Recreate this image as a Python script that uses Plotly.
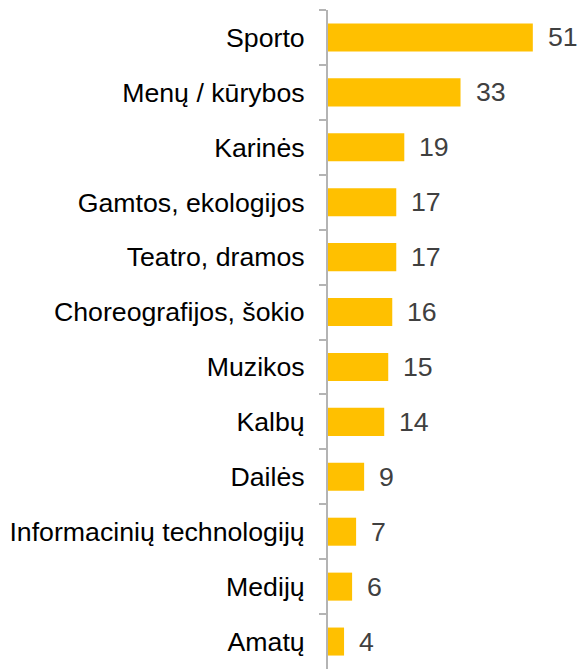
import plotly.graph_objects as go

# Būrelių kryptys ir jų reikšmės (nuo viršaus į apačią)
categories = [
    "Sporto",
    "Menų / kūrybos",
    "Karinės",
    "Gamtos, ekologijos",
    "Teatro, dramos",
    "Choreografijos, šokio",
    "Muzikos",
    "Kalbų",
    "Dailės",
    "Informacinių technologijų",
    "Medijų",
    "Amatų",
]
values = [51, 33, 19, 17, 17, 16, 15, 14, 9, 7, 6, 4]

BAR_COLOR = "#FFC000"
AXIS_COLOR = "#B4B4B4"
FONT = "Arial, Liberation Sans, sans-serif"

fig = go.Figure(
    go.Bar(
        x=values,
        y=categories,
        orientation="h",
        marker=dict(color=BAR_COLOR, line=dict(width=0)),
        hoverinfo="skip",
    )
)

# Reikšmių etiketės dešinėje nuo stulpelių
for cat, val in zip(categories, values):
    fig.add_annotation(
        x=val,
        y=cat,
        text=str(val),
        showarrow=False,
        xanchor="left",
        yanchor="middle",
        xshift=13,
        font=dict(family=FONT, size=26.7, color="#404040"),
    )

fig.update_layout(
    width=579,
    height=669,
    margin=dict(l=328, r=0, t=10, b=0),
    paper_bgcolor="white",
    plot_bgcolor="white",
    bargap=0.49,
    showlegend=False,
    xaxis=dict(
        range=[0, 62.5],
        visible=False,
        showgrid=False,
        zeroline=False,
    ),
    yaxis=dict(
        type="category",
        autorange="reversed",
        showgrid=False,
        zeroline=False,
        showline=True,
        linecolor=AXIS_COLOR,
        linewidth=2,
        ticks="outside",
        tickson="boundaries",
        ticklen=7,
        tickwidth=2,
        tickcolor=AXIS_COLOR,
        ticklabelstandoff=16,
        tickfont=dict(family=FONT, size=26.7, color="#000000"),
    ),
)

fig.write_html("out.html")
